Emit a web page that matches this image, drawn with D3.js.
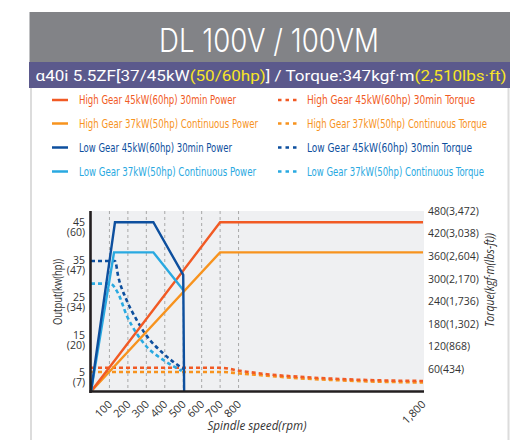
<!DOCTYPE html>
<html><head><meta charset="utf-8">
<script src="https://cdn.jsdelivr.net/npm/d3@7"></script>
<style>
html,body{margin:0;padding:0;background:#fff;}
svg{display:block;}
</style></head>
<body>
<svg id="c" width="516" height="440"></svg>
<script>
// ---------- data ----------
const titleText = "DL 100V / 100VM";
const subtitleParts = [["α40i 5.5ZF[37/45kW", "#ffffff"], ["(50/60hp)", "#f7e526"], ["] / Torque:347kgf·m", "#ffffff"], ["(2,510lbs·ft)", "#f7e526"]];

const legendPower = ["High Gear 45kW(60hp) 30min Power", "High Gear 37kW(50hp) Continuous Power", "Low Gear 45kW(60hp) 30min Power", "Low Gear 37kW(50hp) Continuous Power"];
const legendTorque = ["High Gear 45kW(60hp) 30min Torque", "High Gear 37kW(50hp) Continuous Torque", "Low Gear 45kW(60hp) 30min Torque", "Low Gear 37kW(50hp) Continuous Torque"];
const seriesColors = ["#f15a24", "#f7931e", "#0d4f9e", "#29a9e1"];

const xTicks = [100, 200, 300, 400, 500, 600, 700, 800, 1800];
const gridRpm = [100, 200, 300, 400, 500, 600, 700, 800];
const kwTicks = [5, 15, 25, 35, 45];
const hpTicks = ["(7)", "(20)", "(34)", "(47)", "(60)"];
const torqueTicks = [60, 120, 180, 240, 300, 360, 420, 480];
const lbsTicks = ["(434)", "(868)", "(1,302)", "(1,736)", "(2,170)", "(2,604)", "(3,038)", "(3,472)"];

// power (kW) vs rpm
const highPower30Rpm = [0, 700, 1800];
const highPower30Kw = [0, 45, 45];
const highPowerContRpm = [0, 700, 1800];
const highPowerContKw = [0, 37, 37];
const lowPower30Rpm = [0, 130, 338, 500, 505];
const lowPower30Kw = [0, 45, 45, 31, 0];
const lowPowerContRpm = [0, 125, 338, 500];
const lowPowerContKw = [0, 37, 37, 27];

// torque (kgf·m) vs rpm
const highTorque30Rpm = [0, 700, 808, 953, 1133, 1314, 1495, 1800];
const highTorque30 = [63, 63, 55, 46, 39, 34, 30.5, 28];
const highTorqueContRpm = [0, 700, 808, 953, 1133, 1314, 1495, 1800];
const highTorqueCont = [52, 52, 48, 42, 35, 30.5, 27, 24];
const lowTorque30Rpm = [0, 130, 148, 193, 248, 293, 392, 500];
const lowTorque30 = [347, 347, 305, 243, 190, 154, 101, 60];
const lowTorqueContRpm = [0, 103, 148, 193, 248, 302, 392, 492];
const lowTorqueCont = [287, 287, 260, 203, 154, 119, 84, 55];

// ---------- drawing ----------
const svg = d3.select("#c");
const zip = (a, b) => a.map((v, i) => [v, b[i]]);

// frame
svg.append("rect").attr("x", 29.5).attr("y", 12).attr("width", 480.5).attr("height", 50).attr("fill", "#828387");
svg.append("rect").attr("x", 29).attr("y", 62).attr("width", 481).attr("height", 26).attr("fill", "#5b598c");
svg.append("line").attr("x1", 31).attr("x2", 31).attr("y1", 88).attr("y2", 440).attr("stroke", "#dcdcdc").attr("stroke-width", 2);
svg.append("line").attr("x1", 508.5).attr("x2", 508.5).attr("y1", 88).attr("y2", 440).attr("stroke", "#dcdcdc").attr("stroke-width", 2);

svg.append("text").attr("x", 269).attr("y", 52).attr("text-anchor", "middle")
  .attr("fill", "#fff").attr("font-family", "Inter, 'Open Sans', sans-serif").attr("font-weight", 300)
  .attr("font-size", 32).attr("textLength", 220).attr("lengthAdjust", "spacingAndGlyphs").text(titleText);

const sub = svg.append("text").attr("x", 271).attr("y", 81).attr("text-anchor", "middle")
  .attr("font-family", "Roboto, 'Open Sans', sans-serif").attr("font-size", 15.5)
  .attr("textLength", 471).attr("lengthAdjust", "spacingAndGlyphs");
subtitleParts.forEach(p => sub.append("tspan").attr("fill", p[1]).text(p[0]));

// legend
const legFont = "'Liberation Sans Narrow', 'DejaVu Sans Condensed', Roboto, sans-serif";
const legWidthsP = [157, 179, 153, 177];
const legWidthsT = [168, 180, 165, 177];
const legY = [100, 123.5, 147.5, 171.5];
legendPower.forEach((t, i) => {
  svg.append("line").attr("x1", 52).attr("x2", 68).attr("y1", legY[i]).attr("y2", legY[i])
    .attr("stroke", seriesColors[i]).attr("stroke-width", 2.5);
  svg.append("text").attr("x", 79).attr("y", legY[i] + 4).attr("fill", seriesColors[i])
    .attr("font-family", legFont)
    .attr("font-size", 12).attr("textLength", legWidthsP[i]).attr("lengthAdjust", "spacingAndGlyphs").text(t);
});
legendTorque.forEach((t, i) => {
  svg.append("line").attr("x1", 278).attr("x2", 297).attr("y1", legY[i]).attr("y2", legY[i])
    .attr("stroke", seriesColors[i]).attr("stroke-width", 2.5).attr("stroke-dasharray", "3.5,4");
  svg.append("text").attr("x", 307).attr("y", legY[i] + 4).attr("fill", seriesColors[i])
    .attr("font-family", legFont)
    .attr("font-size", 12).attr("textLength", legWidthsT[i]).attr("lengthAdjust", "spacingAndGlyphs").text(t);
});

// scales
const x = d3.scaleLinear().domain([0, 1800]).range([91, 423]);
const yP = d3.scaleLinear().domain([0, 48]).range([391.5, 211]);
const yT = d3.scaleLinear().domain([0, 480]).range([391.5, 211]);

// plot background
svg.append("rect").attr("x", x(0)).attr("y", yP(48)).attr("width", x(1800) - x(0) + 1).attr("height", yP(0) - yP(48))
  .attr("fill", "#eff0f2");

// grid
svg.append("g").selectAll("line").data(gridRpm).join("line")
  .attr("x1", d => x(d)).attr("x2", d => x(d)).attr("y1", yP(48)).attr("y2", yP(0))
  .attr("stroke", "#a8a8a8").attr("stroke-width", 1).attr("stroke-dasharray", "3,3");

// lines
const lineP = d3.line().x(d => x(d[0])).y(d => yP(d[1]));
const lineT = d3.line().x(d => x(d[0])).y(d => yT(d[1])).curve(d3.curveMonotoneX);

const torqueSeries = [
  [zip(highTorqueContRpm, highTorqueCont), seriesColors[1]],
  [zip(highTorque30Rpm, highTorque30), seriesColors[0]],
  [zip(lowTorqueContRpm, lowTorqueCont), seriesColors[3]],
  [zip(lowTorque30Rpm, lowTorque30), seriesColors[2]],
];
torqueSeries.forEach(s => {
  svg.append("path").attr("d", lineT(s[0])).attr("fill", "none").attr("stroke", s[1])
    .attr("stroke-width", 2.6).attr("stroke-dasharray", "4,3");
});

const powerSeries = [
  [zip(highPowerContRpm, highPowerContKw), seriesColors[1]],
  [zip(highPower30Rpm, highPower30Kw), seriesColors[0]],
  [zip(lowPowerContRpm, lowPowerContKw), seriesColors[3]],
  [zip(lowPower30Rpm, lowPower30Kw), seriesColors[2]],
];
powerSeries.forEach(s => {
  svg.append("path").attr("d", lineP(s[0])).attr("fill", "none").attr("stroke", s[1])
    .attr("stroke-width", 2.4).attr("stroke-linejoin", "miter");
});

// axes
const axFont = "'Open Sans', 'Noto Sans', sans-serif";
const gL = svg.append("g").attr("transform", `translate(${x(0)},0)`)
  .call(d3.axisLeft(yP).tickValues(kwTicks).tickSize(0).tickPadding(6));
gL.select(".domain").remove();
gL.selectAll("text").each(function(d, i) {
  const t = d3.select(this);
  t.text(null).attr("font-family", axFont).attr("font-size", 10.5).attr("fill", "#333").attr("dy", "0.3em");
  t.append("tspan").attr("x", -6).text(d);
  t.append("tspan").attr("x", -6).attr("dy", "0.95em").text(hpTicks[i]);
});

const gR = svg.append("g").attr("transform", `translate(${x(1800)},0)`)
  .call(d3.axisRight(yT).tickValues(torqueTicks).tickSize(0).tickPadding(5).tickFormat((d, i) => d + lbsTicks[i]));
gR.select(".domain").remove();
gR.selectAll("text").attr("font-family", axFont).attr("font-size", 10.5).attr("fill", "#333");

const gB = svg.append("g").attr("transform", `translate(0,${yP(0)})`)
  .call(d3.axisBottom(x).tickValues(xTicks).tickSize(0).tickFormat(d3.format(",")));
gB.select(".domain").remove();
gB.selectAll("text").attr("font-family", axFont).attr("font-size", 11).attr("fill", "#333")
  .attr("text-anchor", "end").attr("dy", 0).attr("y", 0)
  .attr("transform", d => `translate(3,13.5) rotate(-45)`);

// axis lines
svg.append("line").attr("x1", x(0) - 0.5).attr("x2", x(0) - 0.5).attr("y1", yP(48)).attr("y2", yP(0) + 1.5)
  .attr("stroke", "#231f20").attr("stroke-width", 2.6);
svg.append("line").attr("x1", x(0) - 1.5).attr("x2", x(1800) + 1).attr("y1", yP(0)).attr("y2", yP(0))
  .attr("stroke", "#231f20").attr("stroke-width", 2.6);

// axis titles
svg.append("text").attr("transform", "translate(61.5,292) rotate(-90)").attr("text-anchor", "middle")
  .attr("font-family", axFont).attr("font-size", 12).attr("fill", "#333")
  .attr("textLength", 66).attr("lengthAdjust", "spacingAndGlyphs").text("Output(kw(hp))");
svg.append("text").attr("transform", "translate(494,280) rotate(-90)").attr("text-anchor", "middle")
  .attr("font-family", axFont).attr("font-size", 12).attr("font-style", "italic").attr("fill", "#333")
  .attr("textLength", 94).attr("lengthAdjust", "spacingAndGlyphs").text("Torque(kgf·m(lbs-ft))");
svg.append("text").attr("x", 257).attr("y", 430).attr("text-anchor", "middle")
  .attr("font-family", axFont).attr("font-size", 12).attr("font-style", "italic").attr("fill", "#333")
  .attr("textLength", 99).attr("lengthAdjust", "spacingAndGlyphs").text("Spindle speed(rpm)");
</script>
</body></html>
